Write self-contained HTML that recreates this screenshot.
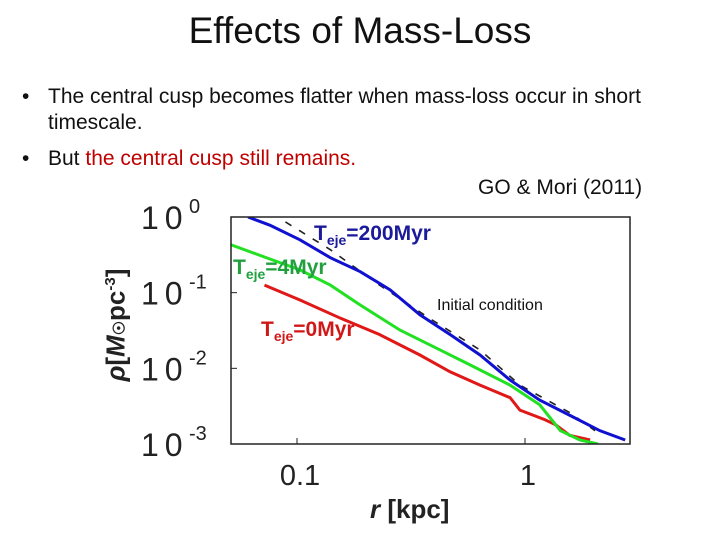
<!DOCTYPE html>
<html><head><meta charset="utf-8"><style>
body{margin:0;width:720px;height:540px;background:#fff;overflow:hidden;font-family:"Liberation Sans",sans-serif;position:relative}
.t{position:absolute;white-space:nowrap}
</style></head><body>
<div class="t" style="left:0;width:720px;text-align:center;top:10px;font-size:37px;color:#111">Effects of Mass-Loss</div>
<div class="t" style="left:22px;top:84px;font-size:21px;color:#111;line-height:26px"><span style="display:inline-block;width:26px">•</span>The central cusp becomes flatter when mass-loss occur in short<br><span style="display:inline-block;width:26px"></span>timescale.</div>
<div class="t" style="left:22px;top:147px;font-size:21px;color:#111"><span style="display:inline-block;width:26px">•</span>But <span style="color:#c00000">the central cusp still remains.</span></div>
<div class="t" style="left:478px;top:176px;font-size:21px;color:#111">GO &amp; Mori (2011)</div>
<svg id="c" width="720" height="540" style="position:absolute;left:0;top:0"></svg>
<script>
const xTicks=[0.1,1], xTickLabels=["0.1","1"];
const yTicks=[1,0.1,0.01,0.001], yTickLabels=["0","-1","-2","-3"];
const blueR=[0.061,0.076,0.103,0.14,0.189,0.256,0.346,0.469,0.635,0.86,1.16,1.57,2.13,2.75];
const blueRho=[1.0,0.78,0.50,0.29,0.19,0.109,0.051,0.028,0.015,0.0070,0.0038,0.0024,0.0015,0.00113];
const initR=[0.089,0.14,0.23,0.38,0.635,0.95,1.57,2.03];
const initRho=[0.86,0.37,0.126,0.046,0.0175,0.0060,0.0026,0.0015];
const greenR=[0.0513,0.069,0.103,0.14,0.189,0.283,0.424,0.574,0.86,1.16,1.43,1.74,2.09];
const greenRho=[0.43,0.31,0.20,0.126,0.069,0.032,0.0175,0.0111,0.0060,0.0033,0.0015,0.00113,0.001];
const redR=[0.072,0.103,0.155,0.23,0.346,0.469,0.635,0.86,0.95,1.22,1.36,1.57,1.93];
const redRho=[0.126,0.080,0.046,0.028,0.015,0.0090,0.0060,0.0041,0.0028,0.0021,0.0018,0.0013,0.00113];
const L=231,R=630,T=217,B=444;
const sx=r=>297+(Math.log10(r)+1)*228;
const sy=v=>T-Math.log10(v)*(B-T)/3;
const svg=document.getElementById('c'),NS='http://www.w3.org/2000/svg';
function mk(tag,a,parent){const e=document.createElementNS(NS,tag);for(const k in a)e.setAttribute(k,a[k]);(parent||svg).appendChild(e);return e;}
const clip=mk('clipPath',{id:'cp'});mk('rect',{x:L,y:T,width:R-L,height:B-T},clip);
function line(rs,vs,col,name,dash,w){
 const p=mk('polyline',{points:rs.map((r,i)=>sx(r)+','+sy(vs[i])).join(' '),fill:'none',stroke:col,'stroke-width':w,'clip-path':'url(#cp)'});
 if(dash)p.setAttribute('stroke-dasharray',dash);
 
 
}
line(initR,initRho,'#222','initial-condition-line','7 9',1.6);
line(redR,redRho,'#e01818','line-teje-0myr',null,3);
line(greenR,greenRho,'#22e022','line-teje-4myr',null,3);
line(blueR,blueRho,'#1010d0','line-teje-200myr',null,3);
const f=mk('rect',{x:L,y:T,width:R-L,height:B-T,fill:'none',stroke:'#222','stroke-width':1.5});

xTicks.forEach((v,i)=>{const x=sx(v);
 mk('line',{x1:x,y1:B,x2:x,y2:B-6,stroke:'#222'});
 const t=mk('text',{x:x+3,y:B+41,'text-anchor':'middle','font-size':29,fill:'#222'});t.textContent=xTickLabels[i];
 });
yTicks.forEach((v,i)=>{const y=sy(v);
 mk('line',{x1:L,y1:y,x2:L+6,y2:y,stroke:'#222'});
 const t=mk('text',{x:141,y:y+12,'font-size':32,'letter-spacing':6,fill:'#222'});t.textContent='10';
 
 const s=mk('text',{x:189,y:y-4,'font-size':20,fill:'#222'});s.textContent=yTickLabels[i];});
</script>
<div class="t" style="left:314px;top:222px;font-size:21px;font-weight:bold;color:#1a1a9a">T<sub style="font-size:14px">eje</sub>=200Myr</div>
<div class="t" style="left:233px;top:256px;font-size:21px;font-weight:bold;color:#22a040">T<sub style="font-size:14px">eje</sub>=4Myr</div>
<div class="t" style="left:261px;top:318px;font-size:21px;font-weight:bold;color:#d01818">T<sub style="font-size:14px">eje</sub>=0Myr</div>
<div class="t" style="left:437px;top:297px;font-size:16px;color:#111;background:#fff">Initial condition</div>
<div class="t" style="left:116px;top:325px;transform:translate(-50%,-50%) rotate(-90deg);font-size:26px;font-weight:bold;color:#222"><i>ρ</i>[<i>M</i><span style="font-size:16px">☉</span>pc<sup style="font-size:15px">-3</sup>]</div>
<div class="t" style="left:370px;top:494px;font-size:26px;font-weight:bold;color:#222"><i>r</i> [kpc]</div>
</body></html>
